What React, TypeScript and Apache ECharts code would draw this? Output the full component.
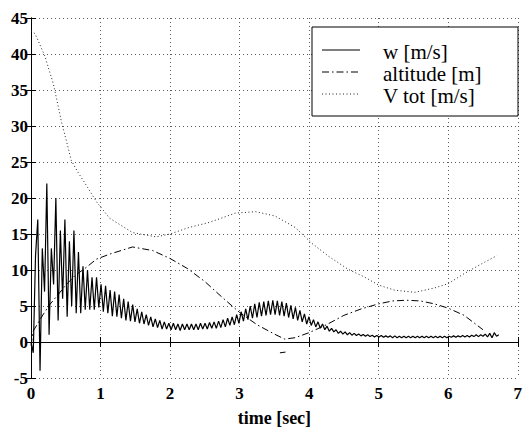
import React, { useEffect, useRef } from "react";
import * as echarts from "echarts";

// ---- data ----
const xTicks = [0, 1, 2, 3, 4, 5, 6, 7];
const yTicks = [-5, 0, 5, 10, 15, 20, 25, 30, 35, 40, 45];

// w [m/s]: samples every wStep seconds (peak / trough readings)
const wStep = 0.0325;
const wValues = [
  0, -1.5, 12, 17, -4, 13, 7, 22, 1, 13,
  8, 20, 3, 15.5, 6, 17, 3.5, 14, 5, 15.5,
  4, 12.5, 4, 10.5, 4.5, 10, 4.5, 9, 4.5, 9,
  4.8, 8, 4.2, 7.8, 4, 7.2, 3.6, 7, 3.5, 6.6,
  3.3, 6, 3, 5.6, 2.9, 5.2, 2.8, 4.6, 2.6, 4.2,
  2.5, 3.8, 2.3, 3.5, 2.1, 3.2, 2.0, 3.0, 1.8, 2.8,
  1.8, 2.6, 1.7, 2.6, 1.7, 2.5, 1.6, 2.5, 1.7, 2.5,
  1.7, 2.5, 1.7, 2.5, 1.7, 2.6, 1.8, 2.6, 1.8, 2.7,
  1.9, 2.8, 1.9, 2.9, 2.0, 3.1, 2.1, 3.3, 2.3, 3.5,
  2.4, 3.8, 2.6, 4.2, 2.9, 4.6, 3.1, 5.0, 3.3, 5.3,
  3.4, 5.5, 3.6, 5.6, 3.7, 5.7, 3.8, 5.8, 3.8, 5.7,
  3.7, 5.6, 3.6, 5.4, 3.4, 5.1, 3.2, 4.8, 3.0, 4.4,
  2.8, 3.9, 2.5, 3.5, 2.3, 3.1, 2.1, 2.8, 1.9, 2.5,
  1.7, 2.2, 1.5, 1.9, 1.4, 1.7, 1.2, 1.5, 1.1, 1.4,
  1.0, 1.3, 0.95, 1.2, 0.9, 1.1, 0.85, 1.05, 0.8, 1.0,
  0.75, 0.95, 0.7, 0.9, 0.7, 0.9, 0.65, 0.85, 0.65, 0.85,
  0.6, 0.85, 0.6, 0.8, 0.6, 0.8, 0.6, 0.8, 0.6, 0.8,
  0.6, 0.8, 0.6, 0.8, 0.6, 0.8, 0.6, 0.8, 0.6, 0.8,
  0.6, 0.8, 0.6, 0.8, 0.6, 0.8, 0.65, 0.85, 0.65, 0.85,
  0.7, 0.9, 0.7, 0.9, 0.7, 0.95, 0.75, 1.0, 0.75, 1.0,
  0.8, 1.1, 0.7, 1.2, 0.6, 1.3, 0.8, 1.0,
];

// altitude [m]
const altT = [0, 0.03, 0.18, 0.27, 0.4, 0.5, 0.63, 0.8, 0.94, 1.13, 1.46, 1.75, 2.0, 2.25, 2.5, 2.75, 3.0, 3.25, 3.5, 3.65, 3.8, 4.0, 4.25, 4.5, 4.75, 5.0, 5.2, 5.4, 5.6, 5.8, 6.0, 6.23, 6.5];
const altV = [-0.5, 1.5, 3.9, 5.2, 6.7, 7.9, 9.2, 10.4, 11.5, 12.2, 13.2, 12.7, 11.6, 10.2, 8.4, 6.2, 4.1, 2.4, 1.1, 0.4, 0.6, 1.3, 2.4, 3.7, 4.6, 5.3, 5.7, 5.8, 5.7, 5.3, 4.7, 3.7, 1.7];
// small stray altitude mark below zero
const altStrayT = [3.58, 3.66];
const altStrayV = [-1.5, -1.4];

// V tot [m/s]
const vT = [0, 0.06, 0.2, 0.25, 0.32, 0.37, 0.44, 0.51, 0.58, 0.68, 0.8, 0.94, 1.13, 1.46, 1.8, 2.0, 2.27, 2.56, 2.94, 3.23, 3.51, 3.8, 4.04, 4.28, 4.56, 4.8, 5.0, 5.23, 5.52, 5.8, 6.0, 6.23, 6.47, 6.7];
const vV = [43.2, 42.8, 39.7, 38.1, 35.9, 33.7, 30.5, 27.9, 25.2, 23.5, 21.7, 19.5, 17.2, 15.2, 14.6, 15.0, 15.9, 16.6, 17.9, 18.1, 17.5, 15.9, 13.7, 11.9, 10.1, 9.0, 7.9, 7.2, 6.9, 7.5, 8.1, 9.5, 10.8, 12.0];

const legendNames = ["w [m/s]", "altitude [m]", "V tot [m/s]"];
const xName = "time [sec]";

const FONT = "'Liberation Serif', 'Times New Roman', Times, 'DejaVu Serif', serif";
const DASHDOT = [7, 3, 1.5, 3];
const DOTTED = [1, 3];
const VDOT = [1, 2.5];

export default function App() {
  const ref = useRef<HTMLDivElement>(null);
  useEffect(() => {
    document.body.style.margin = "0";
    if (!ref.current) return;
    const chart = echarts.init(ref.current, null, { renderer: "svg" });

    const wData = wValues.map((v, i) => [i * wStep, v]);
    const altData = altT.map((t, i) => [t, altV[i]]);
    const strayData = altStrayT.map((t, i) => [t, altStrayV[i]]);
    const vData = vT.map((t, i) => [t, vV[i]]);

    const xMin = xTicks[0], xMax = xTicks[xTicks.length - 1];
    const yMin = yTicks[0], yMax = yTicks[yTicks.length - 1];

    const axisLabel = { color: "#000", fontFamily: FONT, fontSize: 17, fontWeight: "bold" as const };
    const splitLine = { show: true, lineStyle: { color: "#333", width: 0.8, type: DOTTED } };

    const baseX = {
      type: "value" as const, min: xMin, max: xMax, interval: 1,
      axisLine: { show: true, lineStyle: { color: "#000", width: 1 } },
      axisTick: { show: true, inside: true, length: 5, lineStyle: { color: "#000" } },
    };
    const baseY = {
      type: "value" as const, min: yMin, max: yMax, interval: 5,
      axisLine: { show: true, lineStyle: { color: "#000", width: 1 } },
      axisTick: { show: true, inside: true, length: 5, lineStyle: { color: "#000" } },
    };

    chart.setOption({
      animation: false,
      backgroundColor: "#fff",
      textStyle: { fontFamily: FONT },
      grid: { left: 31, right: 5, top: 18, bottom: 39, show: false },
      xAxis: [
        { ...baseX, position: "bottom", axisLabel: { ...axisLabel, margin: 7 }, splitLine,
          name: xName, nameLocation: "middle", nameGap: 31,
          nameTextStyle: { color: "#000", fontFamily: FONT, fontSize: 18, fontWeight: "bold" } },
        { ...baseX, position: "top", axisLabel: { show: false }, splitLine: { show: false } },
      ],
      yAxis: [
        { ...baseY, position: "left", axisLabel: { ...axisLabel, margin: 3 }, splitLine },
        { ...baseY, position: "right", axisLabel: { show: false }, splitLine: { show: false } },
      ],
      series: [
        { name: legendNames[0], type: "line", data: wData, symbol: "none", showSymbol: false,
          lineStyle: { color: "#000", width: 1.2, type: "solid" }, z: 3 },
        { name: legendNames[1], type: "line", data: altData, symbol: "none", showSymbol: false,
          lineStyle: { color: "#000", width: 1, type: DASHDOT }, z: 4 },
        { name: legendNames[1] + " ", type: "line", data: strayData, symbol: "none", showSymbol: false,
          lineStyle: { color: "#000", width: 1, type: "solid" }, z: 4 },
        { name: legendNames[2], type: "line", data: vData, symbol: "none", showSymbol: false,
          lineStyle: { color: "#222", width: 1, type: VDOT }, z: 4 },
      ],
      graphic: [
        { type: "rect", z: 100, shape: { x: 312, y: 27, width: 206, height: 89 },
          style: { fill: "#fff", stroke: "#000", lineWidth: 1 } },
        { type: "line", z: 101, shape: { x1: 322, y1: 50, x2: 360, y2: 50 },
          style: { stroke: "#000", lineWidth: 1.1 } },
        { type: "line", z: 101, shape: { x1: 322, y1: 72, x2: 360, y2: 72 },
          style: { stroke: "#000", lineWidth: 1, lineDash: DASHDOT } },
        { type: "line", z: 101, shape: { x1: 322, y1: 94, x2: 360, y2: 94 },
          style: { stroke: "#222", lineWidth: 1, lineDash: VDOT } },
        ...legendNames.map((n, i) => ({
          type: "text", z: 101, x: 383, y: 52 + i * 22,
          style: { text: n, fill: "#000", fontFamily: FONT, fontSize: 21,
            verticalAlign: "middle", align: "left" },
        })),
      ],
    });
    return () => chart.dispose();
  }, []);
  return <div ref={ref} style={{ width: 525, height: 432 }} />;
}
